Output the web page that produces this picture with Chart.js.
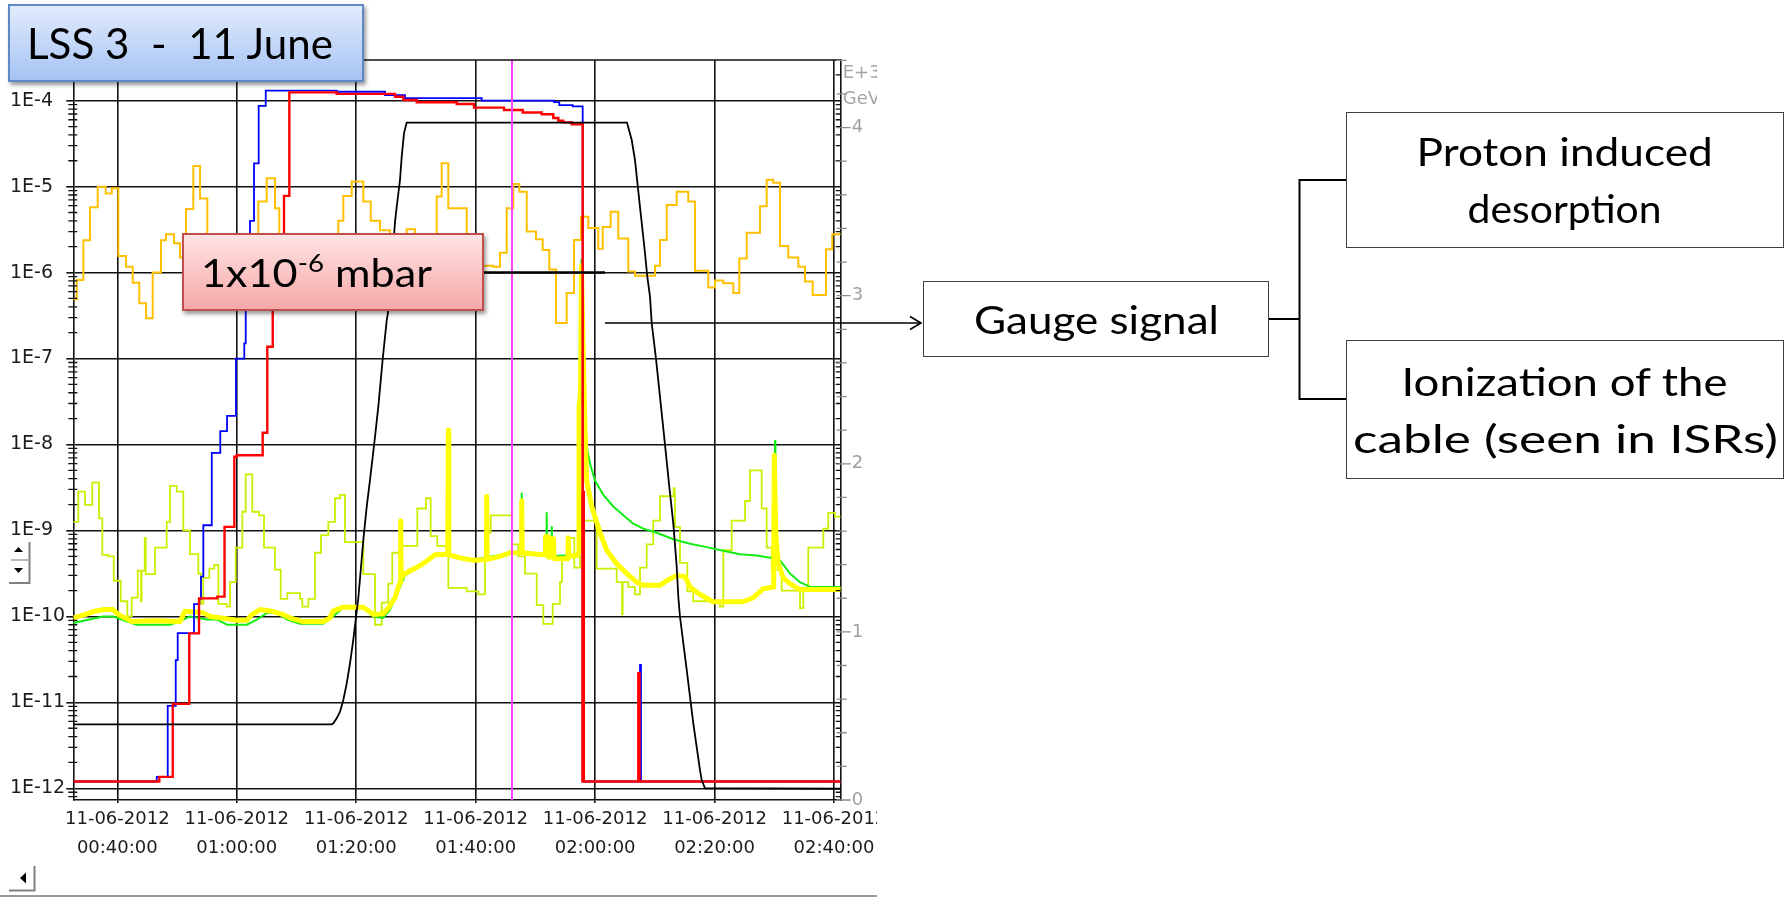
<!DOCTYPE html>
<html>
<head>
<meta charset="utf-8">
<script src="https://cdn.jsdelivr.net/npm/chart.js@4.4.1/dist/chart.umd.min.js"></script>
<style>
html,body{margin:0;padding:0;background:#fff;width:1787px;height:898px;overflow:hidden;position:relative}
#wrap{position:absolute;left:0;top:0;width:877px;height:898px;overflow:hidden}
#ov{position:absolute;left:0;top:0}
.box{position:absolute;box-sizing:border-box;font-family:Lato,'Open Sans',sans-serif;color:#000}
.box span{display:inline-block;white-space:pre}
#lss{left:8px;top:4px;width:356px;height:78px;background:linear-gradient(#e1ebfc,#a6c3f4);border:2px solid #5f88c6;box-shadow:2px 3px 4px rgba(0,0,0,.4);font-size:42px;display:flex;align-items:center;padding-left:17px}
#mbar{left:182px;top:233px;width:302px;height:78px;background:linear-gradient(#fee3e3,#f7a8a8);border:2px solid #c0504d;box-shadow:2px 3px 4px rgba(0,0,0,.4);font-size:39px;display:flex;align-items:center;padding-left:17px}
#lss span,#mbar span{transform-origin:left center}
#mbar sup{font-size:25px;vertical-align:15px;line-height:0}
.diag{border:1.5px solid #404040;background:#fff;font-size:39px;display:flex;flex-direction:column;justify-content:center}
.ln{text-align:center;height:57px;line-height:57px}
#gauge{left:923px;top:281px;width:346px;height:76px}
#proton{left:1346px;top:112px;width:438px;height:136px}
#ion{left:1346px;top:340px;width:438px;height:139px}
</style>
</head>
<body>
<div id="wrap"><canvas id="c" width="900" height="880"></canvas></div>

<svg id="ov" width="1787" height="898">
  <g stroke="#000" fill="none">
    <line x1="484" y1="272.5" x2="605" y2="272.5" stroke-width="2.5"/>
    <line x1="605" y1="323" x2="920" y2="323" stroke-width="1.6"/>
    <polyline points="910,316.5 921,323 910,329.5" stroke-width="1.6"/>
    <line x1="1268" y1="319" x2="1299.5" y2="319" stroke-width="2"/>
    <polyline points="1346,180 1299.5,180 1299.5,399 1346,399" stroke-width="2"/>
  </g>
  <g fill="#000">
    <polygon points="14,552 23,552 18.5,547"/>
    <polygon points="14,568 23,568 18.5,573"/>
    <polygon points="20,878 26,872.5 26,883.5"/>
  </g>
  <g stroke="#808080" stroke-width="2" fill="none">
    <polyline points="9,583 29.5,583 29.5,542"/>
    <line x1="11" y1="560" x2="28" y2="560" stroke="#b8b8b8"/>
    <polyline points="9,890.5 34.5,890.5 34.5,866"/>
  </g>
  <line x1="0" y1="896" x2="877" y2="896" stroke="#9a9a9a" stroke-width="2"/>
</svg>

<div class="box" id="lss"><span data-w="306">LSS 3  -  11 June</span></div>
<div class="box" id="mbar"><span data-w="231">1x10<sup>-6</sup> mbar</span></div>
<div class="box diag" id="gauge"><div class="ln"><span data-w="245">Gauge signal</span></div></div>
<div class="box diag" id="proton"><div class="ln"><span data-w="296">Proton induced</span></div><div class="ln"><span data-w="194">desorption</span></div></div>
<div class="box diag" id="ion"><div class="ln"><span data-w="326">Ionization of the</span></div><div class="ln"><span data-w="425">cable (seen in ISRs)</span></div></div>

<script>
// time axis in minutes after midnight, 11-06-2012
const X_MIN = 32.63, X_MAX = 161.12;
const X_TICK_VALUES = [40, 60, 80, 100, 120, 140, 160];
const X_TICK_LABELS = [
  ['11-06-2012', '00:40:00'], ['11-06-2012', '01:00:00'], ['11-06-2012', '01:20:00'],
  ['11-06-2012', '01:40:00'], ['11-06-2012', '02:00:00'], ['11-06-2012', '02:20:00'],
  ['11-06-2012', '02:40:00']
];
const Y_MIN = 7.31e-13, Y_MAX = 2.975e-4;
const Y_DECADES = [1e-12, 1e-11, 1e-10, 1e-9, 1e-8, 1e-7, 1e-6, 1e-5, 1e-4];
const Y_TICK_LABELS = ['1E-12', '1E-11', '1E-10', '1E-9', '1E-8', '1E-7', '1E-6', '1E-5', '1E-4'];
const MINOR_MULT = [2, 3, 4, 5, 6, 7, 8, 9];
const E_MAX = 4.402;
const E_TICKS = [0, 1, 2, 3, 4];
const E_TICK_LABELS = ['0', '1', '2', '3', '4'];
const CURSOR_TIME = 106.08;

// [minutes, mbar] – stepped series: value holds from the given time on
const blue = [
  [32.63,1.2e-12],[46.60,1.36e-12],[48.44,9.1e-12],[49.78,3.1e-11],[50.11,6.4e-11],[52.84,1.39e-10],
  [53.73,1.6e-10],[54.01,2.9e-10],[54.40,1.15e-9],[55.81,8.0e-9],[57.24,1.43e-8],[58.37,2.15e-8],
  [59.87,1.0e-7],[61.26,1.5e-7],[61.50,1.2e-6],[62.22,4.0e-6],[62.89,1.87e-5],[63.67,8.7e-5],
  [64.85,1.31e-4],[76.73,1.27e-4],[84.82,1.16e-4],[88.17,1.07e-4],[101.01,1.0e-4],[113.12,9.6e-5],
  [114.00,8.9e-5],[116.25,8.6e-5],[117.92,5.3e-5],[117.92,1.2e-12],[127.52,2.72e-11],[127.68,1.2e-12],
  [161.12,1.2e-12]
];
const red = [
  [32.63,1.2e-12],[47.03,1.36e-12],[49.28,9.6e-12],[52.05,6.35e-11],[53.68,1.62e-10],[56.74,1.7e-10],
  [57.95,1.1e-9],[59.59,7.2e-9],[59.99,7.5e-9],[64.34,1.37e-8],[65.11,1.37e-7],[66.02,1.5e-6],
  [67.91,7.8e-6],[68.80,1.25e-4],[76.73,1.2e-4],[86.50,1.11e-4],[87.89,1.02e-4],[90.13,9.6e-5],
  [96.83,9.15e-5],[99.72,8.3e-5],[104.75,7.8e-5],[107.88,7.3e-5],[111.06,6.95e-5],[113.00,6.3e-5],
  [113.84,5.85e-5],[114.67,5.6e-5],[116.08,5.3e-5],[117.92,1.2e-12],[127.23,2.18e-11],[127.43,1.2e-12],
  [161.12,1.2e-12]
];
const redDrop = [[118.02,2.9e-9],[118.02,1.2e-12]];
const orange = [
  [32.63,4.9e-7],[33.20,8.2e-7],[34.31,2.38e-6],[35.43,5.75e-6],[36.72,1.0e-5],[38.06,8.3e-6],
  [39.06,9.6e-6],[40.17,1.56e-6],[41.46,1.17e-6],[42.58,7.6e-7],[43.68,4.4e-7],[44.81,2.94e-7],
  [45.93,1.0e-6],[47.32,2.38e-6],[48.15,2.8e-6],[49.49,2.2e-6],[50.50,1.5e-6],[51.50,5.5e-6],
  [52.72,1.74e-5],[53.85,7.3e-6],[55.07,2.5e-6],[56.36,1.0e-6],[58.87,6e-7],[61.38,1.2e-6],
  [63.61,6.7e-6],[65.01,1.25e-5],[66.40,5.6e-6],[67.12,2.0e-6],[68.91,8e-7],[72.26,4e-7],
  [74.77,1.2e-6],[77.00,4.0e-6],[77.84,7.8e-6],[79.24,1.15e-5],[81.19,6.7e-6],[82.43,4.0e-6],
  [83.98,3.1e-6],[85.66,1.5e-6],[88.45,3.2e-6],[89.84,1.5e-6],[91.52,8e-7],[93.48,7.7e-6],
  [94.31,1.87e-5],[95.42,5.6e-6],[98.50,1.5e-6],[100.73,1.2e-6],[102.95,1.17e-6],[104.08,1.7e-6],
  [105.20,5.6e-6],[106.30,1.07e-5],[107.31,8.7e-6],[108.55,3.0e-6],[110.10,2.45e-6],[111.22,1.83e-6],
  [112.33,1.09e-6],[113.45,2.6e-7],[115.24,5.8e-7],[116.47,2.4e-6],[117.64,4.45e-6],[118.86,3.3e-6],
  [120.53,1.9e-6],[121.27,3.4e-6],[122.61,5.1e-6],[123.88,2.5e-6],[125.56,1.03e-6],[126.68,9.2e-7],
  [130.03,1.2e-6],[130.86,2.4e-6],[131.99,6.1e-6],[133.66,8.7e-6],[135.60,6.7e-6],[136.72,1.05e-6],
  [138.95,6.7e-7],[140.07,8.1e-7],[141.46,7.5e-7],[143.14,5.8e-7],[144.14,1.46e-6],[145.38,2.9e-6],
  [147.61,5.9e-6],[148.73,1.2e-5],[149.83,1.11e-5],[150.96,2.04e-6],[152.35,1.5e-6],[154.02,1.17e-6],
  [155.14,7.9e-7],[156.43,5.5e-7],[158.66,1.87e-6],[159.71,2.8e-6],[161.12,2.8e-6]
];
const lime = [
  [32.63,1.26e-9],[33.47,2.83e-9],[34.59,1.98e-9],[35.81,3.6e-9],[36.94,1.38e-9],[37.49,5.2e-10],
  [38.49,5.0e-10],[39.40,2.6e-10],[40.57,1.5e-10],[41.67,1.0e-10],[42.41,1.65e-10],[43.42,3.4e-10],
  [43.97,1.5e-10],[44.07,3.4e-10],[44.59,8.2e-10],[44.75,3.1e-10],[46.31,6.3e-10],[48.27,1.26e-9],
  [48.82,3.3e-9],[49.95,2.83e-9],[51.05,1.0e-9],[52.17,5.3e-10],[53.56,3.15e-10],[54.01,1.4e-10],
  [54.40,2.8e-10],[55.40,3.6e-10],[56.24,3.97e-10],[56.91,1.4e-10],[58.32,1.3e-10],[58.87,2.5e-10],
  [59.82,6.3e-10],[60.93,1.65e-9],[61.50,4.5e-9],[62.60,1.65e-9],[63.72,1.5e-9],[64.56,6.3e-10],
  [66.40,3.5e-10],[67.36,1.6e-10],[68.46,1.87e-10],[70.59,1.6e-10],[70.97,1.3e-10],[71.98,1.6e-10],
  [73.10,5.5e-10],[74.10,8.8e-10],[75.33,1.26e-9],[76.45,2.37e-9],[77.29,2.6e-9],[78.12,7.3e-10],
  [81.19,3.1e-10],[83.15,8.0e-11],[84.27,1.45e-10],[85.37,2.4e-10],[86.04,5.5e-10],[87.33,6.6e-10],
  [90.23,1.8e-9],[91.69,2.37e-9],[92.47,8.6e-10],[93.58,6.6e-10],[95.42,2.15e-10],[98.50,1.95e-10],
  [100.44,1.8e-10],[101.56,9.4e-10],[102.52,1.5e-9],[106.08,6.9e-10],[107.14,5.0e-10],[108.26,3.15e-10],
  [110.22,1.35e-10],[111.33,8.2e-11],[112.90,1.4e-10],[114.12,2.5e-10],[114.46,5.0e-10],[115.51,8.2e-10],
  [116.52,3.7e-10],[117.47,1.3e-9],[120.27,3.6e-10],[123.61,2.5e-10],[124.50,1.06e-10],[124.62,2.5e-10],
  [125.56,2.2e-10],[126.68,1.8e-10],[127.52,3.7e-10],[128.64,6.9e-10],[129.74,1.3e-9],[130.86,2.5e-9],
  [133.16,3.1e-9],[133.33,2.5e-9],[133.38,1.1e-9],[134.21,4.2e-10],[135.44,1.95e-10],[136.44,1.5e-10],
  [140.91,1.3e-10],[141.46,5.9e-10],[142.87,1.3e-9],[145.10,2.2e-9],[145.93,5.0e-9],[147.89,1.8e-9],
  [148.73,6.3e-10],[149.57,3.5e-10],[151.24,2.0e-10],[154.30,1.25e-10],[154.86,2.0e-10],[155.69,6.3e-10],
  [158.21,1.05e-9],[159.04,1.6e-9],[160.16,1.45e-9],[161.12,1.45e-9]
];
// thick yellow and green gauges, plain lines
const yellow = [
  [32.63,9.6e-11],[34.59,1.05e-10],[36.27,1.15e-10],[37.61,1.2e-10],[39.28,1.2e-10],[40.17,1.05e-10],
  [41.29,9.6e-11],[42.41,8.7e-11],[46.31,8.9e-11],[50.50,8.7e-11],[51.33,1.15e-10],[54.40,1.1e-10],
  [55.52,1.0e-10],[58.87,9.3e-11],[59.99,9.0e-11],[61.67,9.0e-11],[62.50,1.05e-10],[63.89,1.2e-10],
  [65.85,1.15e-10],[67.79,1.05e-10],[68.91,9.6e-11],[71.09,8.7e-11],[74.44,8.7e-11],[75.61,9.6e-11],
  [76.11,1.15e-10],[77.79,1.28e-10],[81.14,1.28e-10],[81.76,1.2e-10],[82.86,1.05e-10],[84.49,1.07e-10],
  [85.37,1.25e-10],[86.50,1.65e-10],[87.05,2.2e-10],[87.37,2.5e-10],[87.45,1.3e-9],[87.53,2.8e-10],
  [88.17,3.15e-10],[89.01,3.4e-10],[90.68,3.9e-10],[91.80,4.4e-10],[93.19,5.2e-10],[95.03,5.3e-10],
  [95.34,5.3e-10],[95.42,1.46e-8],[95.50,5.2e-10],[97.38,4.8e-10],[99.61,4.5e-10],[101.77,4.6e-10],
  [101.85,2.5e-9],[101.93,4.6e-10],[104.08,5.0e-10],[105.75,5.5e-10],[107.62,5.5e-10],[107.71,2.2e-9],
  [107.79,5.5e-10],[110.22,5.3e-10],[111.61,5.2e-10],[111.69,8.5e-10],[112.11,8.5e-10],[112.20,4.9e-10],
  [112.70,4.9e-10],[112.78,8.0e-10],[113.03,8.0e-10],[113.12,4.7e-10],[115.43,4.7e-10],[115.51,8.2e-10],
  [115.63,5.0e-10],[116.97,5.1e-10],[117.22,5.5e-10],[117.30,2.6e-8],[117.55,4.0e-8],[117.72,1.2e-6],
  [117.97,1.5e-7],[118.31,1.4e-8],[118.59,3.8e-9],[119.43,1.9e-9],[120.82,9.4e-10],[121.94,5.9e-10],
  [123.61,4.1e-10],[125.29,3.15e-10],[126.96,2.5e-10],[128.02,2.3e-10],[130.86,2.3e-10],[131.99,2.6e-10],
  [133.66,3.0e-10],[135.05,2.9e-10],[135.89,2.2e-10],[137.56,1.8e-10],[139.74,1.48e-10],[144.76,1.48e-10],
  [146.49,1.65e-10],[148.16,2.1e-10],[149.90,2.2e-10],[150.00,7.5e-9],[150.12,2.4e-9],[150.29,8.0e-10],
  [150.67,4.1e-10],[151.51,2.8e-10],[152.63,2.4e-10],[154.02,2.1e-10],[154.81,2.05e-10],[161.12,2.05e-10]
];
const green = [
  [32.63,8.4e-11],[37.61,1.0e-10],[39.28,1.0e-10],[42.13,8.5e-11],[43.30,8.0e-11],[48.82,8.0e-11],
  [50.50,8.8e-11],[52.17,1.0e-10],[55.02,9.2e-11],[56.69,9.2e-11],[58.37,8.0e-11],[61.72,8.0e-11],
  [63.39,9.2e-11],[65.06,1.1e-10],[66.74,1.1e-10],[68.41,9.2e-11],[70.59,8.2e-11],[74.44,8.2e-11],
  [76.11,1.0e-10],[77.79,1.25e-10],[81.14,1.25e-10],[82.86,1.0e-10],[84.49,9.6e-11],[85.66,1.2e-10],
  [86.50,1.6e-10],[88.17,3.0e-10],[93.19,5.1e-10],[95.03,5.2e-10],[97.38,4.9e-10],[99.61,4.6e-10],
  [105.75,5.4e-10],[107.62,5.4e-10],[107.71,2.7e-9],[107.79,5.4e-10],[111.81,5.2e-10],[111.89,1.6e-9],
  [111.98,5.2e-10],[112.70,5.0e-10],[112.75,1.1e-9],[112.83,5.0e-10],[117.14,5.2e-10],[117.72,1.4e-6],
  [118.06,5.0e-8],[118.59,9.4e-9],[119.14,6.0e-9],[119.98,3.8e-9],[121.37,2.6e-9],[123.05,1.9e-9],
  [124.72,1.5e-9],[126.39,1.2e-9],[128.07,1.05e-9],[130.31,9.4e-10],[133.09,7.9e-10],[135.89,7.0e-10],
  [138.68,6.4e-10],[141.46,5.8e-10],[144.26,5.3e-10],[147.05,5.1e-10],[149.28,4.8e-10],[150.05,4.8e-10],
  [150.12,1.1e-8],[150.19,4.6e-10],[150.96,4.5e-10],[152.63,3.15e-10],[154.30,2.5e-10],[155.98,2.2e-10],
  [161.12,2.2e-10]
];
// beam energy, E+3 GeV (right axis)
const energy = [
  [32.63,0.45],[75.90,0.45],[76.17,0.456],[76.73,0.486],[77.29,0.525],[77.84,0.595],[78.41,0.694],
  [78.96,0.813],[79.51,0.952],[79.97,1.09],[80.35,1.2],[81.19,1.547],[81.76,1.745],[82.31,1.904],
  [83.15,2.161],[83.70,2.34],[84.44,2.625],[85.11,2.855],[85.37,2.909],[86.50,3.44],[86.78,3.529],
  [87.33,3.688],[87.62,3.827],[88.00,3.966],[88.45,4.03],[125.34,4.03],[125.56,4.0],[126.13,3.926],
  [126.68,3.807],[127.06,3.678],[127.63,3.49],[128.18,3.312],[128.74,3.113],[129.19,2.994],[129.48,2.836],
  [130.19,2.625],[130.86,2.399],[131.70,2.114],[132.42,1.864],[133.09,1.646],[133.66,1.388],[133.93,1.209],
  [134.21,1.09],[135.34,0.773],[136.44,0.456],[137.56,0.178],[137.85,0.119],[138.40,0.07],[161.12,0.067]
];

const pts = arr => arr.map(([t, v]) => ({ x: t, y: v }));
function series(data, color, width, extra) {
  return Object.assign({ data: pts(data), borderColor: color, borderWidth: width, pointRadius: 0,
    fill: false, tension: 0, yAxisID: 'y' }, extra || {});
}

const FONT = { family: 'DejaVu Sans', size: 18 };
const INK = '#1c1c1c';

const decor = {
  id: 'decor',
  afterDatasetsDraw(chart) {
    const { ctx, chartArea: a, scales } = chart;
    const x = scales.x, y = scales.y, y2 = scales.y2;
    ctx.save();
    // cursor line
    const cx = x.getPixelForValue(CURSOR_TIME);
    ctx.strokeStyle = '#ff44ff'; ctx.lineWidth = 2;
    ctx.beginPath(); ctx.moveTo(cx, a.top); ctx.lineTo(cx, a.bottom); ctx.stroke();
    // top frame
    ctx.strokeStyle = '#111'; ctx.lineWidth = 1.6;
    ctx.beginPath(); ctx.moveTo(a.left, a.top); ctx.lineTo(a.right, a.top); ctx.stroke();
    // log minor ticks, both sides
    ctx.lineWidth = 1.3; ctx.beginPath();
    for (let e = -13; e <= -4; e++) {
      for (const m of MINOR_MULT) {
        const v = m * Math.pow(10, e);
        if (v < Y_MIN || v > Y_MAX) continue;
        const py = y.getPixelForValue(v);
        ctx.moveTo(a.left - 5, py); ctx.lineTo(a.left + 4, py);
        ctx.moveTo(a.right - 5, py); ctx.lineTo(a.right, py);
      }
    }
    ctx.stroke();
    // energy axis ticks
    ctx.strokeStyle = '#8c8c8c'; ctx.beginPath();
    for (let k = 0; k * 0.2 <= E_MAX; k++) {
      const py = y2.getPixelForValue(k * 0.2);
      ctx.moveTo(a.right - 4, py); ctx.lineTo(a.right + (k % 5 === 0 ? 10 : 6), py);
    }
    ctx.stroke();
    ctx.fillStyle = '#a6a6a6'; ctx.font = '18px "DejaVu Sans"'; ctx.textBaseline = 'middle';
    ctx.fillText('E+3', a.right + 2, a.top + 13);
    ctx.fillText('GeV', a.right + 2, a.top + 39);
    ctx.restore();
  }
};

new Chart(document.getElementById('c'), {
  type: 'line',
  data: {
    datasets: [
      series(redDrop, '#ff0000', 3.5),
      series(energy, '#000000', 1.8, { yAxisID: 'y2' }),
      series(red, '#ff0000', 2.4, { stepped: true }),
      series(blue, '#0000ff', 1.8, { stepped: true }),
      series(yellow, '#ffff00', 5, { borderJoinStyle: 'round' }),
      series(green, '#11ee11', 2, { borderJoinStyle: 'round' }),
      series(lime, '#cdee00', 1.8, { stepped: true }),
      series(orange, '#ffc000', 2, { stepped: true })
    ]
  },
  options: {
    responsive: false, animation: false, devicePixelRatio: 1,
    layout: { padding: { left: 10, top: 60, right: 0, bottom: 0 } },
    plugins: { legend: { display: false }, tooltip: { enabled: false } },
    scales: {
      x: {
        type: 'linear', position: 'bottom', min: X_MIN, max: X_MAX,
        afterBuildTicks: s => { s.ticks = X_TICK_VALUES.map(v => ({ value: v })); },
        afterFit: s => { s.height = 80; },
        grid: { color: '#111', lineWidth: 1.6, tickLength: 3, tickColor: '#111' },
        border: { color: '#111', width: 1.6 },
        ticks: { autoSkip: false, maxRotation: 0, padding: 1, color: INK,
          font: Object.assign({ lineHeight: 1.65 }, FONT),
          callback: (v, i) => X_TICK_LABELS[i] }
      },
      y: {
        type: 'logarithmic', position: 'left', min: Y_MIN, max: Y_MAX,
        afterBuildTicks: s => { s.ticks = Y_DECADES.map(v => ({ value: v })); },
        afterFit: s => { s.width = 63.3; },
        grid: { color: '#111', lineWidth: 1.6, tickLength: 7, tickColor: '#111' },
        border: { color: '#111', width: 1.6 },
        ticks: { autoSkip: false, crossAlign: 'far', color: INK, font: { family: 'DejaVu Sans', size: 19 },
          callback: (v, i) => Y_TICK_LABELS[i] }
      },
      y2: {
        type: 'linear', position: 'right', min: 0, max: E_MAX,
        afterBuildTicks: s => { s.ticks = E_TICKS.map(v => ({ value: v })); },
        afterFit: s => { s.width = 59.3; },
        grid: { drawOnChartArea: false, drawTicks: false },
        border: { color: '#111', width: 1.6 },
        ticks: { autoSkip: false, padding: 11, color: '#a0a0a0', font: FONT,
          callback: (v, i) => E_TICK_LABELS[i] }
      }
    }
  },
  plugins: [decor]
});

function fitText() {
  document.querySelectorAll('[data-w]').forEach(el => {
    el.style.transform = 'none';
    const w = el.getBoundingClientRect().width;
    if (w > 0) el.style.transform = 'scaleX(' + (el.dataset.w / w).toFixed(3) + ')';
  });
}
fitText();
if (document.fonts) document.fonts.ready.then(fitText);
</script>
</body>
</html>
